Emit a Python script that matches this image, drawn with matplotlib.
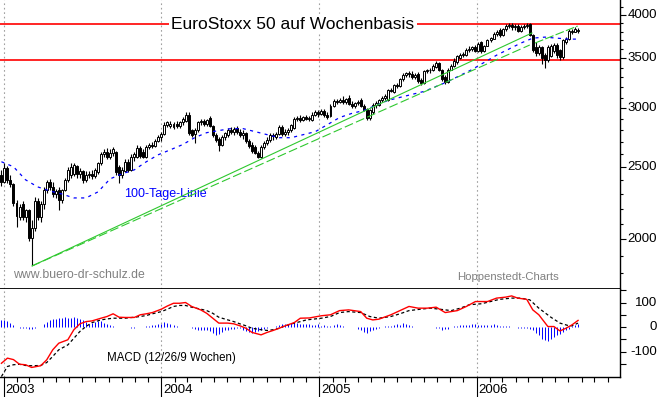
import matplotlib
matplotlib.use('Agg')
import matplotlib.pyplot as plt
import matplotlib.dates as mdates
import matplotlib.transforms as mtransforms
from matplotlib.ticker import FixedLocator, NullFormatter
import numpy as np
import pandas as pd

plt.rcParams['font.family'] = ['Liberation Sans', 'DejaVu Sans']

# Weekly EuroStoxx 50 candles, first week 2002-12-26
first_week = '2002-12-26'
opens = [2440, 2390, 2490, 2400, 2370, 2240, 2140, 2230, 2140, 2190,
         2010, 2070, 2250, 2140, 2230, 2330, 2390, 2350, 2300, 2330,
         2260, 2330, 2400, 2440, 2450, 2510, 2450, 2470, 2400, 2440,
         2450, 2430, 2460, 2530, 2600, 2620, 2580, 2610, 2620, 2500,
         2440, 2470, 2540, 2480, 2580, 2580, 2650, 2620, 2580, 2660,
         2680, 2670, 2710, 2740, 2770, 2850, 2840, 2830, 2860, 2840,
         2870, 2880, 2940, 2800, 2770, 2800, 2870, 2880, 2860, 2910,
         2840, 2760, 2730, 2680, 2740, 2760, 2800, 2790, 2820, 2790,
         2760, 2780, 2710, 2680, 2660, 2610, 2580, 2660, 2690, 2720,
         2760, 2740, 2770, 2830, 2770, 2790, 2800, 2820, 2900, 2910,
         2890, 2920, 2900, 2890, 2940, 2960, 2950, 2970, 2940, 2930,
         3020, 3070, 3060, 3080, 3060, 3100, 3040, 3020, 3050, 3080,
         3020, 2990, 2910, 2960, 3030, 3030, 3080, 3100, 3080, 3170,
         3150, 3220, 3210, 3280, 3320, 3340, 3330, 3300, 3330, 3270,
         3240, 3360, 3370, 3370, 3410, 3450, 3380, 3300, 3250, 3380,
         3420, 3460, 3500, 3540, 3540, 3590, 3600, 3620, 3580, 3680,
         3580, 3640, 3700, 3720, 3770, 3820, 3760, 3830, 3870, 3880,
         3850, 3870, 3810, 3860, 3870, 3890, 3760, 3620, 3560, 3620,
         3540, 3480, 3520, 3580, 3650, 3590, 3510, 3680, 3720, 3800,
         3800, 3810]
highs = [2480, 2535, 2510, 2440, 2380, 2260, 2230, 2250, 2200, 2200,
         2120, 2280, 2270, 2250, 2350, 2400, 2410, 2390, 2340, 2350,
         2340, 2420, 2500, 2530, 2530, 2520, 2490, 2480, 2470, 2470,
         2480, 2490, 2540, 2620, 2640, 2650, 2640, 2660, 2630, 2520,
         2500, 2560, 2560, 2600, 2620, 2680, 2670, 2640, 2680, 2690,
         2700, 2730, 2760, 2790, 2870, 2880, 2880, 2870, 2880, 2880,
         2920, 2960, 2960, 2810, 2820, 2880, 2900, 2900, 2900, 2930,
         2850, 2780, 2740, 2760, 2790, 2820, 2830, 2830, 2840, 2810,
         2800, 2790, 2730, 2700, 2680, 2630, 2680, 2710, 2740, 2780,
         2780, 2790, 2850, 2850, 2810, 2820, 2860, 2920, 2930, 2940,
         2930, 2940, 2930, 2960, 2980, 2980, 2990, 2990, 2960, 3040,
         3090, 3090, 3100, 3110, 3100, 3120, 3070, 3060, 3080, 3100,
         3040, 3000, 2990, 3050, 3070, 3090, 3110, 3130, 3180, 3190,
         3230, 3240, 3290, 3340, 3350, 3360, 3360, 3340, 3350, 3290,
         3380, 3390, 3400, 3440, 3470, 3460, 3390, 3320, 3400, 3440,
         3500, 3540, 3560, 3570, 3610, 3630, 3640, 3650, 3680, 3690,
         3650, 3720, 3740, 3790, 3820, 3840, 3840, 3890, 3900, 3900,
         3890, 3890, 3880, 3890, 3900, 3905, 3770, 3680, 3650, 3640,
         3560, 3650, 3660, 3670, 3670, 3600, 3710, 3740, 3830, 3830,
         3850, 3840]
lows = [2360, 2380, 2380, 2350, 2220, 2080, 2120, 2120, 2110, 1990,
        1845, 2050, 2120, 2110, 2200, 2310, 2330, 2280, 2270, 2190,
        2240, 2320, 2390, 2420, 2430, 2420, 2420, 2380, 2390, 2420,
        2410, 2420, 2450, 2520, 2580, 2560, 2560, 2590, 2440, 2380,
        2420, 2460, 2460, 2470, 2550, 2570, 2570, 2570, 2570, 2640,
        2650, 2660, 2700, 2710, 2760, 2830, 2820, 2810, 2820, 2820,
        2850, 2870, 2760, 2740, 2690, 2790, 2850, 2840, 2840, 2830,
        2740, 2700, 2630, 2670, 2720, 2740, 2770, 2760, 2770, 2740,
        2730, 2690, 2650, 2610, 2600, 2570, 2570, 2640, 2680, 2700,
        2720, 2730, 2760, 2750, 2750, 2760, 2790, 2810, 2880, 2870,
        2880, 2890, 2880, 2880, 2930, 2920, 2940, 2920, 2900, 2920,
        3010, 3040, 3050, 3040, 3040, 3030, 3000, 3000, 3030, 3010,
        2970, 2890, 2890, 2950, 3000, 3020, 3060, 3080, 3070, 3150,
        3140, 3190, 3200, 3260, 3300, 3300, 3280, 3280, 3240, 3220,
        3230, 3340, 3340, 3360, 3400, 3360, 3260, 3230, 3240, 3370,
        3410, 3440, 3490, 3510, 3520, 3570, 3580, 3570, 3570, 3560,
        3570, 3630, 3680, 3710, 3750, 3740, 3750, 3810, 3840, 3820,
        3820, 3790, 3800, 3830, 3840, 3750, 3570, 3520, 3530, 3440,
        3400, 3460, 3510, 3560, 3500, 3480, 3490, 3660, 3700, 3770,
        3790, 3780]
closes = [2386, 2490, 2400, 2370, 2240, 2150, 2210, 2140, 2190, 2010,
          2070, 2250, 2140, 2230, 2330, 2390, 2350, 2300, 2320, 2260,
          2330, 2400, 2480, 2500, 2520, 2450, 2470, 2400, 2440, 2450,
          2430, 2480, 2530, 2600, 2620, 2580, 2610, 2640, 2460, 2440,
          2480, 2540, 2480, 2580, 2600, 2650, 2590, 2580, 2660, 2680,
          2670, 2710, 2740, 2770, 2850, 2870, 2860, 2855, 2840, 2870,
          2900, 2940, 2780, 2760, 2800, 2870, 2880, 2860, 2890, 2840,
          2760, 2720, 2680, 2740, 2780, 2800, 2790, 2810, 2790, 2760,
          2780, 2710, 2670, 2630, 2610, 2580, 2660, 2690, 2720, 2760,
          2750, 2770, 2830, 2770, 2790, 2800, 2850, 2900, 2910, 2890,
          2920, 2900, 2910, 2940, 2960, 2950, 2970, 2940, 2920, 3020,
          3070, 3060, 3080, 3060, 3090, 3040, 3020, 3050, 3060, 3020,
          2980, 2910, 2980, 3030, 3050, 3080, 3100, 3110, 3170, 3160,
          3220, 3210, 3280, 3320, 3340, 3330, 3300, 3320, 3260, 3240,
          3360, 3370, 3380, 3420, 3450, 3380, 3280, 3250, 3380, 3420,
          3470, 3520, 3540, 3550, 3590, 3600, 3620, 3580, 3660, 3580,
          3640, 3700, 3730, 3770, 3800, 3760, 3830, 3870, 3880, 3850,
          3870, 3810, 3860, 3870, 3880, 3760, 3590, 3560, 3620, 3500,
          3480, 3620, 3640, 3650, 3540, 3510, 3700, 3720, 3810, 3810,
          3830, 3820]

# 100-Tage-Linie, read every 4th week
ma_wk = list(range(0, 189, 4)) + [191]
ma_vals = [2542, 2503, 2404, 2352, 2323, 2301, 2273, 2273, 2316, 2411,
           2449, 2479, 2542, 2598, 2638, 2680, 2738, 2781, 2799, 2816,
           2816, 2790, 2764, 2738, 2738, 2764, 2790, 2851, 2914, 2951,
           2978, 3025, 3072, 3101, 3130, 3159, 3208, 3258, 3320, 3382,
           3457, 3533, 3599, 3667, 3724, 3736, 3724, 3713, 3713]

# trend lines (date, price)
trend_solid_d = ['2003-03-07', '2006-05-09']
trend_solid_v = [1842, 3784]
trend_dash_d = ['2003-03-07', '2006-05-04']
trend_dash_v = [1842, 3646]
trend_upper_d = ['2006-05-16', '2006-08-23']
trend_upper_v = [3668, 3866]
resistance = [3890, 3480]

# MACD (red) and signal (black dashed)
macd_wk = [0, 2, 4, 6, 8, 10, 13, 15, 17, 19, 22, 24, 26, 28, 30, 33, 35, 37, 39, 41,
           44, 46, 48, 50, 53, 55, 57, 59, 61, 63, 66, 68, 70, 72, 75, 77, 79, 81, 83, 86,
           88, 90, 92, 94, 97, 99, 102, 106, 109, 112, 115, 119, 121, 123, 125, 129, 132,
           135, 138, 141, 144, 147, 151, 154, 157, 161, 164, 167, 169, 171, 174, 176, 178,
           181, 183, 185, 187, 189, 191]
macd_vals = [-148, -127, -133, -152, -154, -165, -158, -134, -93, -66, -52, -11, 13, 22, 25,
             36, 43, 54, 40, 39, 39, 50, 54, 59, 73, 86, 97, 97, 100, 84, 70, 56, 36, 16, 16,
             13, 5, -5, -22, -32, -22, -14, -5, 5, 18, 36, 37, 46, 50, 67, 70, 63, 36, 29, 32,
             50, 67, 84, 77, 77, 81, 59, 67, 84, 104, 104, 118, 122, 127, 118, 113, 70, 50, 2,
             2, -16, -5, 9, 27]
signal_wk = [0, 2, 4, 6, 8, 10, 13, 15, 17, 19, 22, 24, 26, 28, 30, 33, 35, 37, 39, 41,
             44, 46, 48, 50, 53, 55, 57, 59, 61, 63, 66, 68, 70, 72, 75, 77, 79, 81, 83, 86,
             88, 90, 92, 94, 97, 99, 101, 106, 109, 112, 115, 119, 122, 125, 129, 132, 135,
             139, 142, 145, 149, 152, 155, 159, 162, 165, 169, 172, 175, 178, 182, 185, 188,
             189, 191]
signal_vals = [-202, -161, -154, -152, -157, -158, -157, -145, -120, -93, -73, -46, -18, 2, 18,
               29, 33, 36, 36, 36, 40, 43, 47, 54, 63, 73, 84, 88, 88, 81, 73, 67, 56, 40, 29,
               22, 13, 5, -5, -11, -14, -11, -5, 5, 16, 22, 29, 36, 43, 59, 63, 59, 43, 36, 43,
               54, 67, 73, 77, 73, 67, 77, 91, 95, 104, 113, 118, 118, 111, 77, 40, 16, 5, 5, 16]
hist_vals = [27, 27, 23, 16, 7, 0, -3, -4, -3, -10,
             -10, -5, 0, 0, 14, 20, 27, 31, 34, 37,
             38, 41, 38, 37, 41, 37, 34, 27, 20, 14,
             16, 20, 23, 23, 18, 14, 8, 4, 0, 0,
             0, 0, 0, -3, -2, 0, 0, 2, 3, 3,
             7, 7, 11, 14, 20, 16, 11, 7, 4, 2,
             0, 0, 0, -5, -7, -11, -14, -14, -14, -18,
             -24, -31, -27, -20, -14, -11, -7, -7, -3, -5,
             -14, -18, -20, -24, -22, -16, -11, -7, -3, 0,
             2, 3, 7, 11, 14, 14, 16, 20, 18, 14,
             14, 14, 14, 7, 7, 11, 3, 7, 3, 3,
             7, 11, 7, 3, 0, 0, 0, 0, -7, -14,
             -20, -23, -18, -11, -7, -3, 0, 3, 3, 4,
             7, 11, 7, 16, 11, 7, 3, 0, 0, 0,
             0, 0, 0, 0, -3, -3, -11, -10, -7, 0,
             3, 4, 7, 7, 7, 7, 11, 14, 7, 7,
             7, 7, 7, 11, 7, 4, 4, 3, 3, 0,
             0, -3, -2, -3, -3, -8, -14, -24, -34, -48,
             -54, -58, -50, -41, -34, -27, -20, -14, -7, 3,
             7, 11]

price_ticks = [2000, 2500, 3000, 3500, 4000]
price_minor = [1800, 1900, 2100, 2200, 2300, 2400, 2600, 2700, 2800, 2900,
               3100, 3200, 3300, 3400, 3600, 3700, 3800, 3900, 4100]
macd_labels = [-100, 0, 100]
macd_ticks = [-150, -100, -50, 0, 50, 100, 150]
years = ['2003', '2004', '2005', '2006']

weeks = pd.date_range(first_week, periods=len(closes), freq='7D')
wk = mdates.date2num(weeks.to_pydatetime())
o = np.array(opens); h = np.array(highs); l = np.array(lows); c = np.array(closes)

px_per_day = 0.4313
x0 = mdates.date2num(pd.Timestamp('2003-01-01').to_pydatetime()) - 4 / px_per_day
x1 = x0 + 620 / px_per_day
year_x = [mdates.date2num(pd.Timestamp(y + '-01-01').to_pydatetime()) for y in years]
month_x = mdates.date2num(pd.date_range('2003-01-01', '2006-11-01', freq='MS').to_pydatetime())

def dn(ds):
    return mdates.date2num(pd.to_datetime(ds).to_pydatetime())

fig = plt.figure(figsize=(6.6, 3.97), dpi=100)
ax1 = fig.add_axes([0, 0.2713, 0.9394, 0.7287])
ax2 = fig.add_axes([0, 0.0516, 0.9394, 0.2197])

# price panel
ax1.set_yscale('log')
ax1.set_ylim(1714, 4190)
ax1.set_xlim(x0, x1)
for yx in year_x:
    ax1.axvline(yx, color='#a0a0a0', lw=0.8, ls=(0, (1.5, 2.5)), zorder=1)
for r in resistance:
    ax1.axhline(r, color='red', lw=1.2, zorder=2)

up = c >= o
ax1.vlines(wk, l, h, color='black', lw=0.8, zorder=3)
ax1.bar(wk, np.abs(c - o), bottom=np.minimum(o, c), width=4.6,
        color=np.where(up, 'white', 'black'), edgecolor='black', linewidth=0.7, zorder=4)

ax1.plot(wk[ma_wk], ma_vals, color='blue', lw=0.9, ls=(0, (2.5, 3.5)), zorder=5)
green = '#2ec82e'
ax1.plot(dn(trend_solid_d), trend_solid_v, color=green, lw=0.8, zorder=5)
ax1.plot(dn(trend_dash_d), trend_dash_v, color=green, lw=0.8, ls=(0, (8, 3)), zorder=5)
ax1.plot(dn(trend_upper_d), trend_upper_v, color=green, lw=0.8, ls=(0, (8, 2)), zorder=5)

blend1 = mtransforms.blended_transform_factory(ax1.transAxes, ax1.transData)
ax1.text(0.4726, 3890, 'EuroStoxx 50 auf Wochenbasis', transform=blend1, ha='center',
         va='center', fontsize=12.5, zorder=7,
         bbox=dict(facecolor='white', edgecolor='none', pad=1.5))
ax1.text(0.2, 0.329, '100-Tage-Linie', transform=ax1.transAxes, color='blue',
         fontsize=9, va='center')
ax1.text(0.021, 0.049, 'www.buero-dr-schulz.de', transform=ax1.transAxes,
         color='#808080', fontsize=8.8, va='center')
ax1.text(0.737, 0.044, 'Hoppenstedt-Charts', transform=ax1.transAxes,
         color='#808080', fontsize=8.2, va='center')

ax1.yaxis.tick_right()
ax1.yaxis.set_major_locator(FixedLocator(price_ticks))
ax1.yaxis.set_minor_locator(FixedLocator(price_minor))
ax1.yaxis.set_major_formatter(NullFormatter())
ax1.yaxis.set_minor_formatter(NullFormatter())
ax1.tick_params(axis='y', which='major', length=4.3, width=0.8)
ax1.tick_params(axis='y', which='minor', length=2.5, width=0.8)
ax1.tick_params(axis='x', which='both', bottom=False, labelbottom=False)
for p in price_ticks:
    ax1.text(657 / 620, p, str(p), transform=blend1, ha='right', va='center', fontsize=9.5)
ax1.spines['left'].set_visible(False)
ax1.spines['top'].set_visible(False)
ax1.spines['bottom'].set_linewidth(1.3)
ax1.spines['right'].set_linewidth(1.0)

# MACD panel
ax2.set_xlim(x0, x1)
ax2.set_ylim(-202, 154)
for yx in year_x:
    ax2.axvline(yx, color='#a0a0a0', lw=0.8, ls=(0, (1.5, 2.5)), zorder=1)
ax2.vlines(wk, 0, hist_vals, color='blue', lw=0.7, zorder=2)
ax2.plot(wk[signal_wk], signal_vals, color='black', lw=0.9, ls=(0, (2.5, 2)), zorder=3)
ax2.plot(wk[macd_wk], macd_vals, color='red', lw=1.0, zorder=4)
ax2.text(0.1726, 0.2156, 'MACD (12/26/9 Wochen)', transform=ax2.transAxes,
         fontsize=8.3, va='center')

blend2 = mtransforms.blended_transform_factory(ax2.transAxes, ax2.transData)
ax2.yaxis.tick_right()
ax2.yaxis.set_major_locator(FixedLocator(macd_ticks))
ax2.yaxis.set_major_formatter(NullFormatter())
ax2.tick_params(axis='y', which='major', length=4.3, width=0.8)
for v in macd_labels:
    ax2.text(657 / 620, v, str(v), transform=blend2, ha='right', va='center', fontsize=9.5)

ax2.xaxis.set_major_locator(FixedLocator(year_x))
ax2.xaxis.set_minor_locator(FixedLocator(month_x))
ax2.xaxis.set_major_formatter(NullFormatter())
ax2.tick_params(axis='x', which='major', length=14.8, width=0.8, direction='out')
ax2.tick_params(axis='x', which='minor', length=3.6, width=0.8, direction='out')
blend3 = mtransforms.blended_transform_factory(ax2.transData, ax2.transAxes)
for yx, yl in zip(year_x, years):
    ax2.text(yx + 4, -0.155, yl, transform=blend3, ha='left', va='center',
             fontsize=9.5, clip_on=False)
ax2.spines['left'].set_visible(False)
ax2.spines['top'].set_visible(False)
ax2.spines['right'].set_linewidth(1.0)
ax2.spines['bottom'].set_linewidth(1.0)

fig.savefig('out.png', dpi=100, facecolor='white')
